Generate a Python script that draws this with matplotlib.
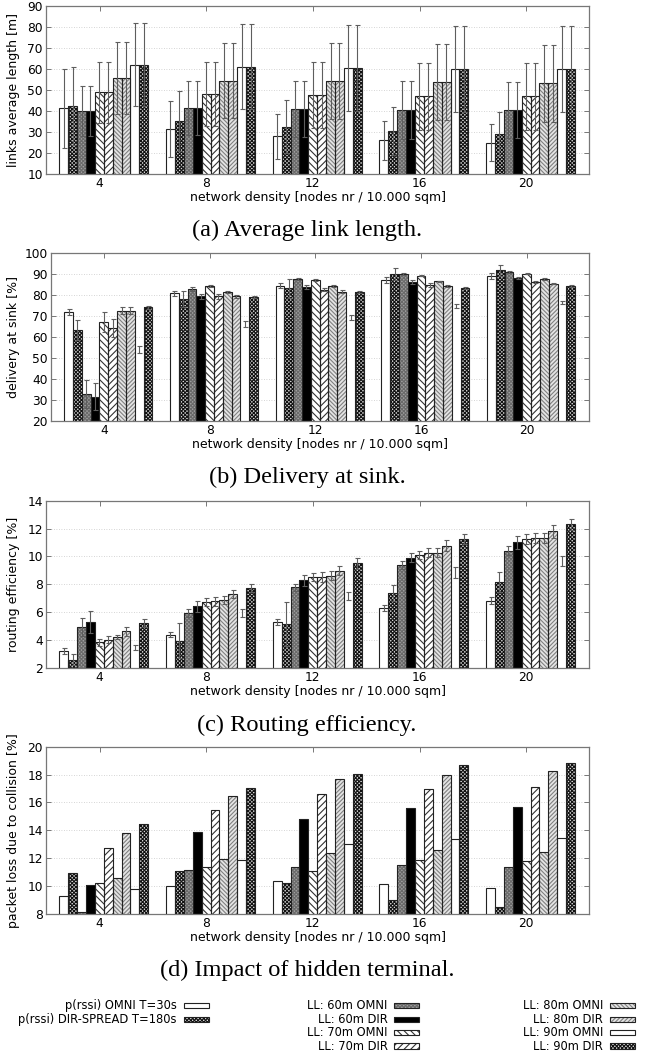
import numpy as np
import matplotlib
matplotlib.use('Agg')
import matplotlib.pyplot as plt
from matplotlib.patches import Rectangle

# x categories and series names
densities = ['4', '8', '12', '16', '20']
series = ['p(rssi) OMNI T=30s', 'p(rssi) DIR-SPREAD T=180s',
          'LL: 60m OMNI', 'LL: 60m DIR', 'LL: 70m OMNI', 'LL: 70m DIR',
          'LL: 80m OMNI', 'LL: 80m DIR', 'LL: 90m OMNI', 'LL: 90m DIR']

# (a) links average length [m]  (rows = density, cols = series)
length_mean = [[41.3, 42.5, 40.0, 40.0, 49.0, 49.0, 55.7, 55.7, 62.0, 62.0],
               [31.5, 35.2, 41.5, 41.5, 48.0, 48.0, 54.5, 54.5, 61.0, 61.0],
               [28.0, 32.5, 41.0, 41.0, 47.5, 47.5, 54.2, 54.2, 60.3, 60.3],
               [26.0, 30.5, 40.5, 40.5, 47.0, 47.0, 53.7, 53.7, 59.8, 59.8],
               [24.9, 28.9, 40.5, 40.5, 47.0, 47.0, 53.2, 53.2, 59.8, 59.8]]
length_err = [[18.8, 18.5, 11.7, 11.7, 14.5, 14.5, 17.2, 17.2, 19.8, 19.8],
              [13.5, 14.2, 13.0, 13.0, 15.2, 15.2, 17.8, 17.8, 20.2, 20.2],
              [10.8, 12.6, 13.3, 13.3, 15.8, 15.8, 18.2, 18.2, 20.5, 20.5],
              [9.3, 11.3, 13.6, 13.6, 15.9, 15.9, 18.2, 18.2, 20.5, 20.5],
              [8.8, 10.5, 13.5, 13.5, 16.0, 16.0, 18.4, 18.4, 20.5, 20.5]]

# (b) delivery at sink [%]
delivery_mean = [[71.7, 63.4, 32.9, 31.6, 67.1, 64.2, 72.5, 72.5, 53.9, 74.1],
                 [80.9, 78.1, 82.8, 79.3, 84.1, 79.3, 81.4, 79.3, 66.3, 79.0],
                 [84.4, 83.3, 87.8, 83.8, 87.0, 82.5, 84.1, 81.6, 69.5, 81.6],
                 [87.0, 90.0, 90.0, 86.2, 89.2, 84.9, 86.5, 84.1, 74.6, 83.3],
                 [88.9, 91.7, 90.9, 88.1, 90.1, 86.2, 87.6, 85.4, 76.3, 84.4]]
delivery_err = [[1.4, 4.8, 6.7, 6.4, 4.6, 4.3, 1.7, 1.7, 1.7, 0.8],
                [1.2, 4.0, 1.0, 1.2, 0.5, 1.0, 0.5, 0.8, 1.3, 0.5],
                [1.2, 4.5, 0.5, 0.8, 0.5, 0.8, 0.5, 0.6, 1.2, 0.5],
                [1.5, 3.0, 0.3, 0.8, 0.3, 1.0, 0.3, 0.5, 1.0, 0.5],
                [1.5, 2.6, 0.3, 0.3, 0.3, 0.3, 0.3, 0.3, 0.8, 0.5]]

# (c) routing efficiency [%]
eff_mean = [[3.24, 2.6, 4.94, 5.29, 3.84, 4.03, 4.22, 4.62, 3.48, 5.22],
            [4.39, 3.96, 5.94, 6.42, 6.73, 6.77, 6.89, 7.32, 5.94, 7.73],
            [5.29, 5.17, 7.8, 8.28, 8.52, 8.52, 8.63, 8.99, 7.18, 9.52],
            [6.3, 7.37, 9.4, 9.92, 10.1, 10.28, 10.28, 10.78, 8.85, 11.24],
            [6.84, 8.16, 10.42, 11.02, 11.26, 11.33, 11.33, 11.8, 9.68, 12.31]]
eff_err = [[0.2, 0.4, 0.65, 0.8, 0.25, 0.25, 0.17, 0.33, 0.2, 0.28],
           [0.2, 1.27, 0.3, 0.38, 0.3, 0.3, 0.3, 0.3, 0.3, 0.3],
           [0.2, 1.56, 0.25, 0.4, 0.3, 0.35, 0.3, 0.35, 0.3, 0.4],
           [0.2, 0.6, 0.3, 0.35, 0.3, 0.35, 0.3, 0.4, 0.4, 0.35],
           [0.25, 0.7, 0.3, 0.45, 0.35, 0.35, 0.35, 0.45, 0.35, 0.4]]

# (d) packet loss due to collision [%]
loss_mean = [[9.26, 10.94, 8.14, 10.1, 10.22, 12.7, 10.55, 13.78, 9.79, 14.44],
             [9.98, 11.05, 11.15, 13.9, 11.34, 15.47, 11.94, 16.47, 11.87, 17.07],
             [10.34, 10.2, 11.34, 14.8, 11.05, 16.6, 12.37, 17.67, 12.99, 18.02],
             [10.15, 8.98, 11.51, 15.59, 11.87, 16.95, 12.56, 18.0, 13.37, 18.72],
             [9.84, 8.48, 11.37, 15.66, 11.8, 17.14, 12.46, 18.24, 13.44, 18.81]]

W, H = 646, 1055
plt.rcParams['font.family'] = 'DejaVu Sans'
plt.rcParams['font.size'] = 8.8
plt.rcParams['hatch.linewidth'] = 0.8

# fill style per series: facecolor, hatch, hatch colour
styles = [('white', None, None),
          ('#d8d8d8', 'x' * 9, '#111111'),
          ('#a0a0a0', 'x' * 9, '#6a6a6a'),
          ('black', None, None),
          ('white', '\\' * 5, '#333333'),
          ('white', '/' * 5, '#333333'),
          ('#e4e4e4', '\\' * 8, '#808080'),
          ('#e4e4e4', '/' * 8, '#808080'),
          ('white', None, None),
          ('#d8d8d8', 'x' * 9, '#111111')]
edge = '#222222'
ecol = '#5e5e5e'

fig = plt.figure(figsize=(W / 100, H / 100), dpi=100)


def px_axes(l, r, t, b):
    return fig.add_axes([l / W, 1 - b / H, (r - l) / W, (b - t) / H])


def panel(rect, means, errs, ylim, yticks, ylabel, outline9=True):
    ax = px_axes(*rect)
    means = np.array(means)
    base = np.arange(len(densities))
    bw = 1 / 12
    for j in range(len(series)):
        face, hatch, hc = styles[j]
        x = base + 0.04 + (j - 4.5) * bw
        if hatch:
            ax.bar(x, means[:, j], width=bw, color=face, hatch=hatch,
                   edgecolor=hc, linewidth=0, zorder=2)
        else:
            ax.bar(x, means[:, j], width=bw, color=face, linewidth=0, zorder=2)
        if j != 8 or outline9:
            ax.bar(x, means[:, j], width=bw, fill=False, edgecolor=edge,
                   linewidth=0.8, zorder=3)
        if errs is not None:
            ax.errorbar(x, means[:, j], yerr=np.array(errs)[:, j], fmt='none',
                        ecolor=ecol, elinewidth=0.8, capsize=1.8,
                        capthick=0.8, zorder=4)
    ax.set_xlim(-0.502, 4.588)
    ax.set_ylim(*ylim)
    ax.set_yticks(yticks)
    ax.set_xticks(base)
    ax.set_xticklabels(densities)
    ax.tick_params(direction='in', top=True, right=True, length=3.5,
                   width=0.7, color='#777777')
    ax.tick_params(axis='x', pad=2.2)
    ax.tick_params(axis='y', pad=2.2)
    for s in ax.spines.values():
        s.set_color('#777777')
        s.set_linewidth(0.9)
    ax.yaxis.grid(True, linestyle=(0, (1, 2)), color='#c8c8c8', linewidth=0.6)
    ax.set_axisbelow(True)
    ax.set_xlabel('network density [nodes nr / 10.000 sqm]', fontsize=9,
                  labelpad=1.0)
    ax.set_ylabel(ylabel, fontsize=9)
    ax.yaxis.set_label_coords((20 - rect[0]) / (rect[1] - rect[0]), 0.5)
    return ax


panel((46, 589, 6, 174), length_mean, length_err, (10, 90), range(10, 91, 10),
      'links average length [m]')
panel((51, 589, 253, 421), delivery_mean, delivery_err, (20, 100), range(20, 101, 10),
      'delivery at sink [%]', outline9=False)
panel((46, 589, 500.7, 668), eff_mean, eff_err, (2, 14), range(2, 15, 2),
      'routing efficiency [%]', outline9=False)
panel((46, 589, 746.7, 914), loss_mean, None, (8, 20), range(8, 21, 2),
      'packet loss due to collision [%]')

# captions and legend drawn in pixel coordinates
ov = fig.add_axes([0, 0, 1, 1])
ov.set_xlim(0, W)
ov.set_ylim(H, 0)
ov.axis('off')

captions = ['(a) Average link length.', '(b) Delivery at sink.',
            '(c) Routing efficiency.', '(d) Impact of hidden terminal.']
for cap, yb in zip(captions, [236, 483, 730.7, 976]):
    ov.text(307, yb, cap, ha='center', va='baseline', fontsize=17.6,
            family='Liberation Serif')

legend_slots = [(177, 1005.7), (177, 1019.3),
                (387.7, 1005.7), (387.7, 1019.3), (387.7, 1032.7), (387.7, 1046.2),
                (603, 1005.7), (603, 1019.3), (603, 1032.7), (603, 1046.2)]
for j, (xr, yc) in enumerate(legend_slots):
    ov.text(xr, yc, series[j], ha='right', va='center', fontsize=8.3)
    face, hatch, hc = styles[j]
    sx, sw, sh = xr + 6.5, 25, 5.5
    if hatch:
        ov.add_patch(Rectangle((sx, yc - sh / 2), sw, sh, facecolor=face,
                               hatch=hatch, edgecolor=hc, linewidth=0))
    else:
        ov.add_patch(Rectangle((sx, yc - sh / 2), sw, sh, facecolor=face,
                               linewidth=0))
    ov.add_patch(Rectangle((sx, yc - sh / 2), sw, sh, fill=False,
                           edgecolor=edge, linewidth=0.8))

fig.savefig('out.png', dpi=100)
